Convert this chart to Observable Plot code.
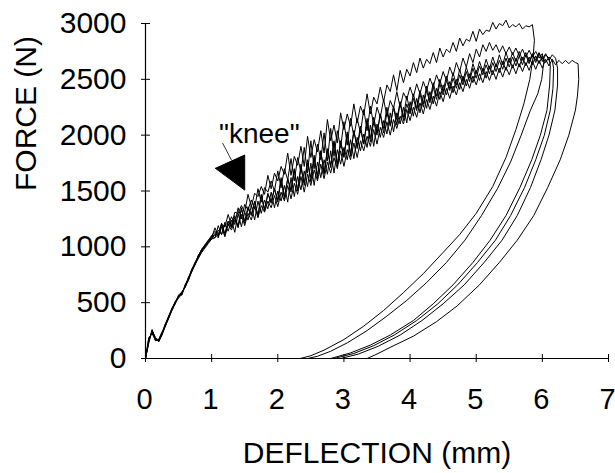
<!DOCTYPE html>
<html><head><meta charset="utf-8">
<script src="https://cdn.jsdelivr.net/npm/d3@7"></script>
<script src="https://cdn.jsdelivr.net/npm/@observablehq/plot@0.6"></script>
<style>body{margin:0;background:#fff}</style>
</head><body><div id="chart"></div>
<script>
const xTicks = [0,1,2,3,4,5,6,7];
const yTicks = [0,500,1000,1500,2000,2500,3000];

// sampling grid (mm) for the loading parts
const loadX = [
0,0.05,0.1,0.15,0.2,0.25,0.3,0.35,0.4,0.45,0.5,0.55,0.6,0.65,0.7,0.75,0.8,0.85,0.9,0.95,
1,1.05,1.1,1.15,1.2,1.25,1.3,1.35,1.4,1.45,1.5,1.55,1.6,1.65,1.7,1.75,1.8,1.85,1.9,1.95,
2,2.05,2.1,2.15,2.2,2.25,2.3,2.35,2.4,2.45,2.5,2.55,2.6,2.65,2.7,2.75,2.8,2.85,2.9,2.95,
3,3.05,3.1,3.15,3.2,3.25,3.3,3.35,3.4,3.45,3.5,3.55,3.6,3.65,3.7,3.75,3.8,3.85,3.9,3.95,
4,4.05,4.1,4.15,4.2,4.25,4.3,4.35,4.4,4.45,4.5,4.55,4.6,4.65,4.7,4.75,4.8,4.85,4.9,4.95,
5,5.05,5.1,5.15,5.2,5.25,5.3,5.35,5.4,5.45,5.5,5.55,5.6,5.65,5.7,5.75,5.8,5.85,5.9,5.95,
6,6.05,6.1,6.15,6.2,6.25,6.3,6.35,6.4,6.45,6.5];

// loading force (N) for six specimens
const loadA = [
0,160,250,180,150,220,310,360,450,490,
570,590,640,730,780,860,910,980,1000,1060,
1080,1170,1100,1200,1180,1290,1190,1310,1300,1370,
1310,1470,1360,1480,1450,1540,1470,1640,1520,1660,
1590,1720,1650,1840,1640,1810,1730,1900,1720,1990,
1800,1960,1850,2040,1840,2140,1950,2090,1930,2200,
2050,2190,2080,2280,2110,2260,2180,2370,2190,2340,
2280,2430,2300,2450,2390,2540,2400,2580,2470,2590,
2530,2650,2560,2690,2600,2680,2640,2740,2650,2780,
2700,2770,2740,2830,2750,2870,2800,2860,2840,2930,
2840,2950,2900,2940,2930,3010,2950,3000,2980,3030,
2960,2990,2970,3000,2950,2980,2970,2990];
const loadB = [
0,180,230,160,170,240,290,380,430,510,
550,570,660,710,800,840,930,960,1020,1040,
1100,1080,1190,1110,1220,1190,1270,1200,1350,1250,
1380,1330,1420,1340,1520,1400,1530,1490,1590,1500,
1680,1530,1700,1600,1790,1590,1800,1670,1890,1660,
1950,1700,1920,1780,2020,1770,2060,1810,2040,1890,
2120,1910,2150,1990,2150,2020,2230,2040,2260,2090,
2250,2160,2320,2170,2310,2240,2390,2250,2380,2320,
2430,2340,2460,2370,2480,2400,2510,2430,2540,2460,
2570,2490,2610,2530,2650,2570,2690,2610,2730,2650,
2770,2700,2810,2750,2830,2760,2810,2740,2800,2730,
2790,2720,2780,2710,2770,2700,2760,2700,2750,2690,
2730];
const loadC = [
0,150,260,170,160,220,300,370,440,500,
550,600,640,720,790,840,920,970,1000,1040,
1080,1120,1100,1210,1120,1230,1180,1260,1190,1340,
1230,1360,1290,1400,1280,1470,1340,1470,1410,1520,
1420,1620,1450,1610,1510,1700,1500,1740,1550,1750,
1620,1820,1610,1860,1660,1860,1730,1940,1720,1930,
1800,2010,1810,2040,1880,2050,1920,2130,1940,2120,
2000,2190,2020,2200,2090,2250,2090,2290,2130,2280,
2190,2330,2220,2370,2250,2400,2290,2430,2320,2460,
2360,2490,2400,2510,2420,2540,2450,2570,2480,2600,
2510,2620,2540,2630,2550,2650,2570,2670,2590,2690,
2610,2700,2620,2710,2630,2720,2640,2720,2650,2730,
2660,2720,2690];
const loadD = [
0,190,220,180,150,210,290,360,430,490,
560,580,650,710,780,850,900,960,1010,1050,
1070,1080,1150,1110,1200,1140,1240,1130,1300,1180,
1310,1240,1370,1240,1410,1300,1420,1340,1490,1350,
1500,1410,1550,1400,1620,1450,1630,1510,1680,1540,
1750,1550,1760,1620,1780,1650,1860,1660,1870,1740,
1890,1780,1960,1790,1980,1860,2010,1890,2090,1900,
2100,1980,2130,2010,2200,2030,2200,2100,2250,2110,
2300,2170,2330,2200,2360,2240,2390,2280,2420,2320,
2450,2360,2480,2380,2500,2410,2530,2440,2550,2470,
2580,2490,2600,2510,2620,2540,2640,2560,2660,2580,
2690,2600,2690,2610,2700,2620,2700,2630,2710,2640,
2710,2650,2700,2670];
const loadE = [
0,160,240,160,170,230,310,380,450,510,
560,570,660,720,800,860,920,980,1020,1060,
1100,1140,1090,1210,1100,1230,1170,1280,1170,1350,
1210,1340,1280,1410,1270,1460,1320,1480,1390,1520,
1400,1600,1430,1610,1490,1690,1500,1700,1570,1780,
1580,1790,1640,1860,1650,1880,1710,1950,1740,1950,
1810,2030,1830,2040,1900,2080,1920,2150,1970,2160,
2020,2190,2060,2250,2080,2260,2140,2300,2160,2350,
2210,2370,2240,2400,2280,2440,2310,2470,2350,2500,
2390,2530,2420,2560,2450,2590,2480,2610,2510,2640,
2550,2660,2570,2680,2590,2700,2610,2720,2630,2740,
2650,2740,2660,2750,2670,2740,2660,2730,2670,2740,
2680,2730,2670,2720,2690];
const loadF = [
0,140,250,190,160,220,290,360,440,500,
540,590,640,700,780,840,900,950,990,1030,
1070,1110,1080,1180,1090,1200,1150,1240,1180,1290,
1190,1300,1240,1360,1260,1370,1310,1410,1350,1460,
1360,1490,1410,1550,1430,1570,1470,1630,1490,1650,
1550,1690,1590,1740,1610,1760,1660,1800,1700,1860,
1720,1870,1780,1930,1800,1950,1860,1990,1900,2050,
1920,2070,1980,2120,2000,2140,2060,2170,2100,2230,
2130,2250,2160,2290,2190,2320,2230,2350,2260,2390,
2300,2420,2330,2440,2360,2470,2390,2500,2420,2530,
2450,2550,2470,2570,2490,2580,2500,2600,2520,2610,
2540,2630,2550,2640,2570,2650,2580,2660,2590,2670,
2600,2680,2620,2680,2630,2670,2640,2670,2640,2670,
2650];

// unloading paths [deflection mm, force N]
const unloadA = [[5.88,2850],[5.86,2700],[5.81,2500],[5.72,2280],[5.6,2050],[5.45,1800],[5.25,1540],[5.0,1300],[4.75,1110],[4.5,950],[4.2,760],[3.9,590],[3.6,430],[3.3,290],[3.0,170],[2.7,75],[2.5,25],[2.34,0]];
const unloadB = [[6.02,2650],[5.99,2500],[5.93,2370],[5.82,2224],[5.68,2000],[5.52,1760],[5.32,1520],[5.08,1280],[4.83,1060],[4.55,860],[4.25,680],[3.95,520],[3.65,380],[3.35,250],[3.05,140],[2.8,65],[2.6,20],[2.45,0]];
const unloadC = [[6.12,2620],[6.11,2450],[6.07,2224],[5.97,2000],[5.84,1780],[5.66,1530],[5.45,1280],[5.21,1059],[4.95,860],[4.65,660],[4.35,490],[4.05,340],[3.7,210],[3.4,120],[3.1,50],[2.8,0]];
const unloadD = [[6.17,2600],[6.16,2420],[6.12,2224],[6.03,2000],[5.9,1780],[5.73,1530],[5.52,1280],[5.29,1059],[5.02,860],[4.72,660],[4.42,490],[4.1,340],[3.76,210],[3.45,115],[3.15,45],[2.85,0]];
const unloadE = [[6.23,2600],[6.23,2450],[6.19,2224],[6.1,2000],[5.98,1780],[5.82,1530],[5.62,1280],[5.39,1059],[5.12,860],[4.82,660],[4.5,490],[4.18,340],[3.85,210],[3.52,110],[3.22,40],[2.95,0]];
const unloadF = [[6.54,2640],[6.55,2500],[6.53,2350],[6.5,2224],[6.4,2000],[6.27,1780],[6.08,1530],[5.87,1280],[5.62,1059],[5.35,860],[5.05,660],[4.71,470],[4.4,330],[4.05,200],[3.7,100],[3.5,40],[3.35,0]];

// "knee" annotation (data units)
const kneeArrow = [{x:1.057,y:1703},{x:1.5,y:1822},{x:1.5,y:1508},{x:1.057,y:1703}];
const kneeLeader = [{x:1.168,y:1926},{x:1.30,y:1777}];
const kneeLabel = [{x:1.72,y:1929,text:'"knee"'}];

const curves = [["A",loadA,unloadA],["B",loadB,unloadB],["C",loadC,unloadC],["D",loadD,unloadD],["E",loadE,unloadE],["F",loadF,unloadF]];
const rows = [];
for (const [id, ys, un] of curves) {
  ys.forEach((y, i) => rows.push({id, x: loadX[i], y}));
  un.forEach(([x, y]) => rows.push({id, x, y}));
}

const chart = Plot.plot({
  width: 615, height: 473,
  marginLeft: 145, marginRight: 7, marginTop: 23, marginBottom: 115,
  x: {domain: [0, 7], label: null},
  y: {domain: [0, 3000], label: null},
  style: {background: "white", color: "black", fontFamily: "'Liberation Sans', Arial, sans-serif"},
  marks: [
    Plot.line(rows, {x: "x", y: "y", z: "id", stroke: "black", strokeWidth: 1}),
    Plot.ruleX([0], {stroke: "black", strokeWidth: 1.2}),
    Plot.ruleY([0], {stroke: "black", strokeWidth: 1.2}),
    Plot.ruleY(yTicks, {x1: 0, x2: 0, insetLeft: -4, insetRight: -5, stroke: "black"}),
    Plot.ruleX(xTicks, {y1: 0, y2: 0, insetTop: -4, insetBottom: -4, stroke: "black"}),
    Plot.axisX({ticks: xTicks, tickSize: 0, tickPadding: 30, fontSize: 29, dx: -1, label: null, tickFormat: d => `${d}`}),
    Plot.axisY({ticks: yTicks, tickSize: 0, tickPadding: 19, fontSize: 30, label: null, tickFormat: d => `${d}`}),
    Plot.text(["DEFLECTION (mm)"], {text: d => d, frameAnchor: "bottom", dy: 104, lineAnchor: "bottom", fontSize: 30}),
    Plot.text(["FORCE (N)"], {text: d => d, frameAnchor: "left", dx: -119, rotate: -90, fontSize: 30}),
    Plot.line(kneeArrow, {x: "x", y: "y", fill: "black", stroke: "black", strokeWidth: 1}),
    Plot.line(kneeLeader, {x: "x", y: "y", stroke: "black", strokeWidth: 0.8}),
    Plot.text(kneeLabel, {x: "x", y: "y", text: "text", fontSize: 28, lineAnchor: "bottom"})
  ]
});
document.getElementById("chart").appendChild(chart);
</script>
</body></html>
